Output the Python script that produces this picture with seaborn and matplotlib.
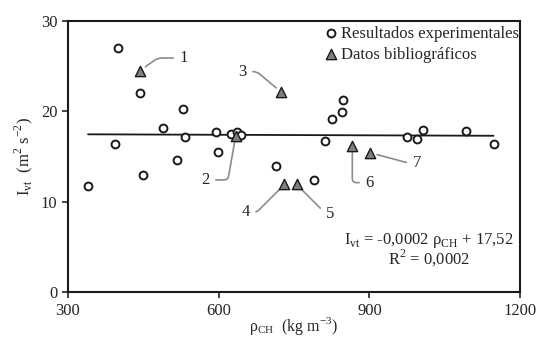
import matplotlib
matplotlib.use('Agg')
import matplotlib.pyplot as plt
import numpy as np
import pandas as pd
import seaborn as sns

# Resultados experimentales
exp_rho = [340, 393, 399, 443, 449, 489, 518, 529, 533, 594, 598, 625, 637, 645,
           715, 789, 811, 825, 845, 847, 974, 994, 1006, 1093, 1147]
exp_ivt = [11.7, 16.4, 27.0, 22.0, 12.9, 18.2, 14.6, 20.2, 17.2, 17.7, 15.5, 17.5, 17.7, 17.4,
           13.9, 12.4, 16.7, 19.2, 19.9, 21.2, 17.2, 16.9, 17.9, 17.8, 16.4]

# Datos bibliograficos (numerados 1-7)
bib_rho = [443, 634, 725, 731, 755, 866, 902]
bib_ivt = [24.5, 17.3, 22.1, 11.9, 11.9, 16.2, 15.4]
bib_ids = ['1', '2', '3', '4', '5', '6', '7']

# posiciones de las etiquetas numeradas
lab_rho = [530, 574, 648, 654, 821, 900, 994]
lab_ivt = [25.9, 12.4, 24.4, 8.8, 8.6, 12.1, 14.3]
lab_angles = [35, 80, -40, 45, -45, 90, -15]

# recta de ajuste
slope = -0.0002
intercept = 17.52
fit_range = [340, 1147]

sns.set_style('ticks')
plt.rcParams['font.family'] = ['Liberation Serif', 'DejaVu Serif']
plt.rcParams['mathtext.fontset'] = 'custom'
plt.rcParams['mathtext.rm'] = 'Liberation Serif'

fig, ax = plt.subplots(figsize=(5.39, 3.39), dpi=100)
fig.subplots_adjust(left=0.126, right=0.965, top=0.938, bottom=0.139)

fit_df = pd.DataFrame({'rho': fit_range,
                       'ivt': [intercept + slope * r for r in fit_range]})
sns.lineplot(data=fit_df, x='rho', y='ivt', color='#1a1a1a', lw=1.3, ax=ax, zorder=1)

exp_df = pd.DataFrame({'rho': exp_rho, 'ivt': exp_ivt})
bib_df = pd.DataFrame({'rho': bib_rho, 'ivt': bib_ivt})
sns.scatterplot(data=exp_df, x='rho', y='ivt', marker='o', s=32, facecolor='white',
                edgecolor='#1a1a1a', linewidth=1.4, ax=ax, zorder=3,
                label='Resultados experimentales')
sns.scatterplot(data=bib_df, x='rho', y='ivt', marker='^', s=55, color='#7f7f7f',
                edgecolor='#1a1a1a', linewidth=1.0, ax=ax, zorder=4,
                label='Datos bibliográficos')

for r, v, t, lr, lv, ang in zip(bib_rho, bib_ivt, bib_ids, lab_rho, lab_ivt, lab_angles):
    ax.annotate(t, xy=(r, v), xytext=(lr, lv), fontsize=12, ha='center', va='center',
                arrowprops=dict(arrowstyle='-', color='#8c8c8c', lw=1.2, shrinkA=2, shrinkB=5,
                                connectionstyle=f'angle,angleA=0,angleB={ang},rad=4'))

ax.text(1018, 5.7, r'I$_\mathregular{vt}$ = -0,0002 ρ$_\mathregular{CH}$ + 17,52',
        ha='center', va='center', fontsize=12)
ax.text(1018, 3.7, r'R$^\mathregular{2}$ = 0,0002', ha='center', va='center', fontsize=12)

ax.set_xlim(300, 1200)
ax.set_ylim(0, 30)
ax.set_xticks([300, 600, 900, 1200])
ax.set_yticks([0, 10, 20, 30])
ax.tick_params(labelsize=12, length=4, width=1.2, direction='out')
ax.tick_params(axis='x', pad=4)
for sp in ax.spines.values():
    sp.set_linewidth(1.5)
    sp.set_color('#1a1a1a')

ax.set_xlabel(r'ρ$_\mathregular{CH}$  (kg m$^\mathregular{-3}$)', fontsize=11.5)
ax.xaxis.set_label_coords(0.5, -0.085)
ax.set_ylabel(r'I$_\mathregular{vt}$  (m$^\mathregular{2}$ s$^\mathregular{-2}$)', fontsize=12, labelpad=4)

ax.legend(loc='upper right', bbox_to_anchor=(1.02, 1.02), frameon=False, fontsize=12,
          handletextpad=0.0, borderaxespad=0.2, labelspacing=0.3, handlelength=1.2)

fig.savefig('out.png', dpi=100)
